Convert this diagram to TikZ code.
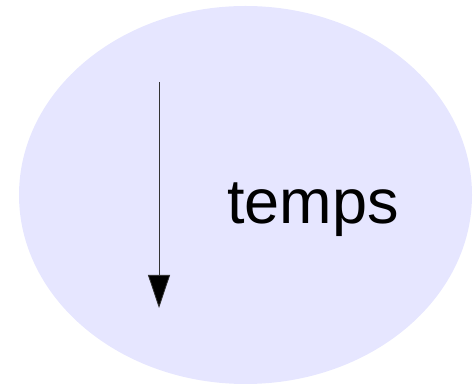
\documentclass[tikz,border=0pt]{standalone}
\usepackage{fontspec}
\setmainfont{Liberation Sans}
\usetikzlibrary{arrows.meta}
\definecolor{lav}{HTML}{E6E6FF}
\begin{document}
\begin{tikzpicture}[x=1pt,y=1pt,
  timearrow/.style={draw=black!80,line width=0.8pt,-{Triangle[length=33pt,width=22pt,fill=black]}}]
\useasboundingbox (0,0) rectangle (473,387);
\fill[lav] (245.5,192) ellipse [x radius=226.5, y radius=189];
\coordinate (start) at (159,305);
\coordinate (end) at (159,79);
\draw[timearrow] (start) -- (end);
\node[anchor=base west,inner sep=0pt,font=\fontsize{63}{70}\selectfont] (lbl) at (227,163) {temps};
\end{tikzpicture}
\end{document}
